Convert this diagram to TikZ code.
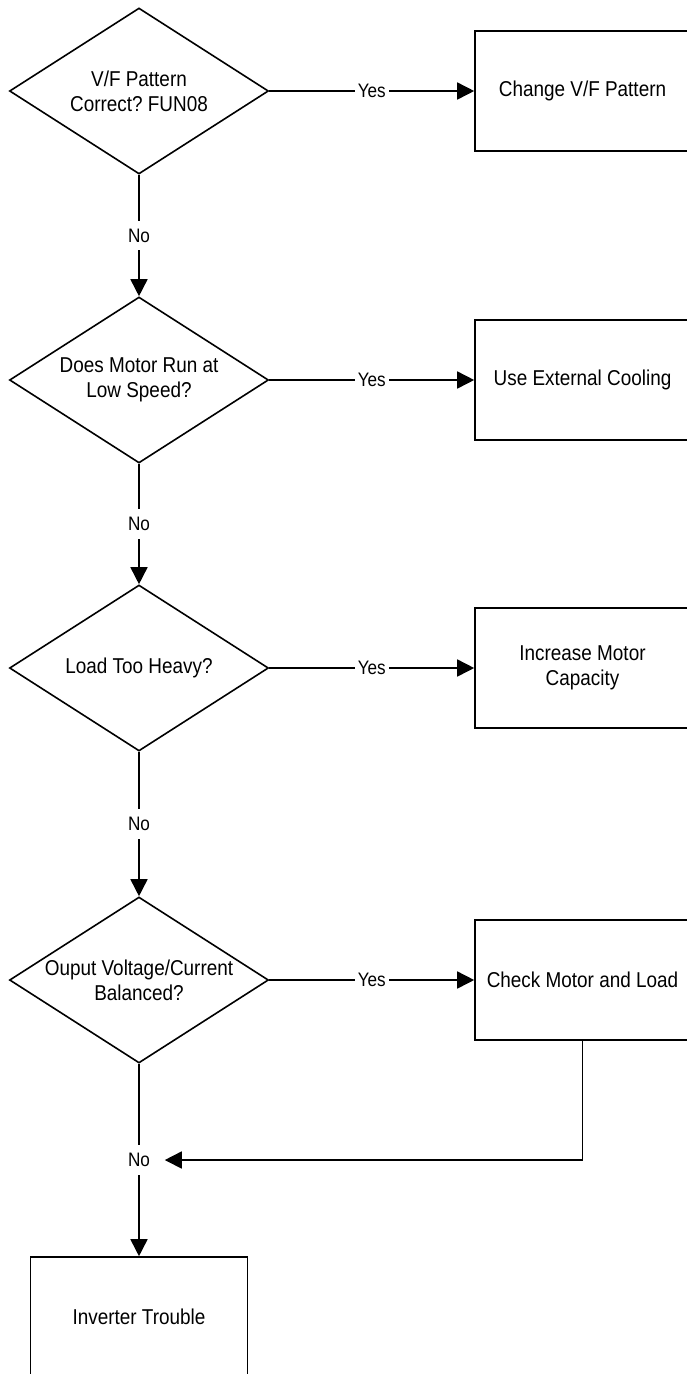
\documentclass[tikz,border=0pt]{standalone}
\usepackage{fontspec}
\setmainfont{Liberation Sans}[FakeStretch=0.88]
\usetikzlibrary{arrows.meta,shapes.geometric}
\frenchspacing
\tikzset{
  decision/.style={draw,shape=diamond,minimum width=259pt,minimum height=166pt,inner sep=0pt},
  qtext/.style={align=center,inner sep=0pt},
  action/.style={draw,rectangle,minimum width=215pt,minimum height=120pt,inner sep=0pt,align=center},
  lbl/.style={fill=white,inner xsep=3pt,inner ysep=8pt,font=\fontsize{19.5pt}{23pt}\selectfont}
}

\begin{document}
\begin{tikzpicture}[x=1pt,y=-1pt,line width=1.6pt,>={Triangle[length=17pt,width=17pt]},font=\fontsize{21.5pt}{25pt}\selectfont]
\useasboundingbox (0,0) rectangle (687,1374);
% decisions
\node[decision] (q1) at (139,91) {};
\node[qtext] (q1t) at (q1) {V/F Pattern\\Correct? FUN08};
\node[decision] (q2) at (139,380) {};
\node[qtext] (q2t) at (q2) {Does Motor Run at\\Low Speed?};
\node[decision] (q3) at (139,668) {};
\node[qtext] (q3t) at (q3) {Load Too Heavy?};
\node[decision] (q4) at (139,980) {};
\node[qtext] (q4t) at (q4) {Ouput Voltage/Current\\Balanced?};
% actions
\node[action] (a1) at (582.5,91) {Change V/F Pattern};
\node[action] (a2) at (582.5,380) {Use External Cooling};
\node[action] (a3) at (582.5,668) {Increase Motor\\Capacity};
\node[action] (a4) at (582.5,980) {Check Motor and Load};
\node[action,minimum width=217pt] (inv) at (139,1317) {Inverter Trouble};
% yes branches
\draw[->] (q1) -- node[lbl]{Yes} (a1);
\draw[->] (q2) -- node[lbl]{Yes} (a2);
\draw[->] (q3) -- node[lbl]{Yes} (a3);
\draw[->] (q4) -- node[lbl]{Yes} (a4);
% no branches
\draw[->] (q1) -- node[lbl]{No} (q2);
\draw[->] (q2) -- node[lbl]{No} (q3);
\draw[->] (q3) -- node[lbl]{No} (q4);
\draw[->] (q4) -- node[lbl] (n4) {No} (inv);
\draw[->,shorten >=11pt] (a4) |- (n4);
\end{tikzpicture}
\end{document}
